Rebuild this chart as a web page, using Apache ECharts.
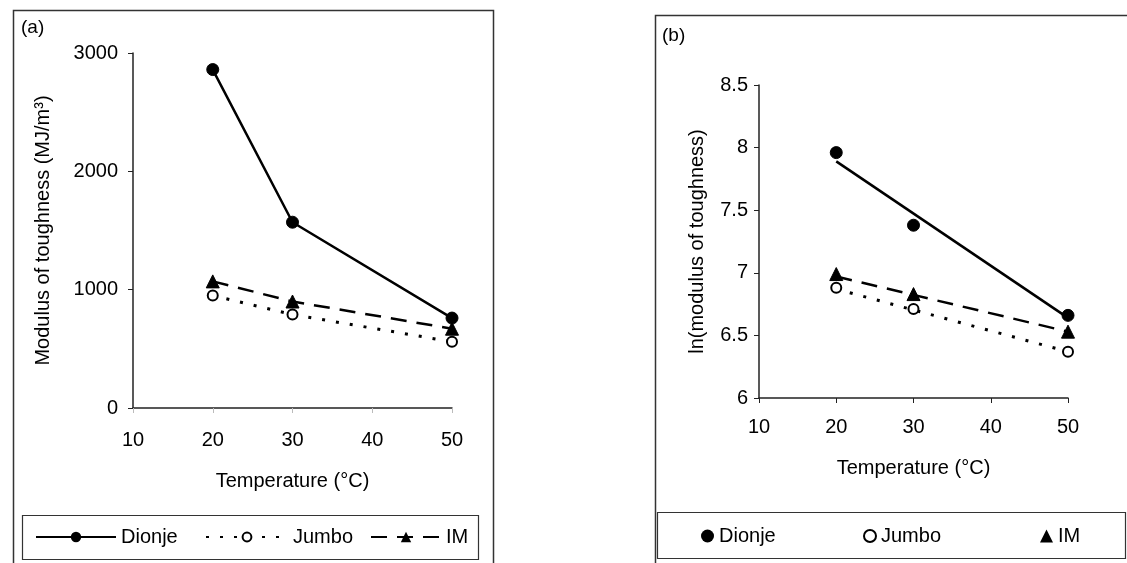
<!DOCTYPE html>
<html>
<head>
<meta charset="utf-8">
<script src="https://cdn.jsdelivr.net/npm/echarts@6/dist/echarts.min.js"></script>
<style>
  html, body { margin: 0; padding: 0; background: #fff; }
  #chart { width: 1127px; height: 563px; }
</style>
</head>
<body>
<div id="chart"></div>
<script>
// Temperatures at which toughness was measured (°C)
const temps = [20, 30, 50];

// (a) modulus of toughness, MJ/m³
const dionjeModulus = [2860, 1570, 760];
const jumboModulus = [950, 790, 560];
const imModulus = [1070, 900, 670];

// (b) ln(modulus of toughness)
const dionjeLn = [7.96, 7.38, 6.66];
const jumboLn = [6.88, 6.71, 6.37];
const imLn = [6.99, 6.83, 6.53];

// (b) straight trend lines, drawn between 20 and 50 °C
const fitTemps = [20, 50];
const dionjeFit = [7.89, 6.64];
const jumboFit = [6.87, 6.37];
const imFit = [6.97, 6.53];

// Axis ticks
const xTicks = [10, 20, 30, 40, 50];
const yTicksA = [0, 1000, 2000, 3000];
const yTicksB = [6, 6.5, 7, 7.5, 8, 8.5];

const FONT = "'Liberation Sans', Arial, sans-serif";
const INK = '#000';
const pairs = (xs, ys) => xs.map((x, i) => [x, ys[i]]);

const dotted = [3, 11];
const dashed = [16, 10];

const chart = echarts.init(document.getElementById('chart'), null, { renderer: 'canvas' });

const axisText = { color: INK, fontFamily: FONT, fontSize: 20 };

function xAxis(gridIndex, tickColor, margin, nameGap) {
  return {
    type: 'value', gridIndex,
    min: xTicks[0], max: xTicks[xTicks.length - 1], interval: 10,
    name: 'Temperature (°C)', nameLocation: 'middle', nameGap,
    nameTextStyle: axisText,
    axisLine: { show: true, onZero: false, lineStyle: { color: '#222', width: 1.5 } },
    axisTick: { show: true, length: 5, lineStyle: { color: tickColor, width: 1 } },
    axisLabel: Object.assign({ margin, formatter: v => String(v) }, axisText),
    splitLine: { show: false }
  };
}

function yAxis(gridIndex, ticks, step, name, margin, nameGap) {
  return {
    type: 'value', gridIndex,
    min: ticks[0], max: ticks[ticks.length - 1], interval: step,
    name, nameLocation: 'middle', nameGap,
    nameTextStyle: axisText,
    axisLine: { show: true, onZero: false, lineStyle: { color: '#222', width: 1.5 } },
    axisTick: { show: true, length: 5, lineStyle: { color: '#222', width: 1 } },
    axisLabel: Object.assign({ margin, formatter: v => String(v) }, axisText),
    splitLine: { show: false }
  };
}

const black = '#000';
const filled = { color: black, borderColor: black, opacity: 1 };
const hollow = { color: '#fff', borderColor: black, borderWidth: 2, opacity: 1 };

function legendItem(name, left, top, w, h, icon) {
  const item = icon ? { name, icon } : { name };
  return {
    data: [item], left, top, orient: 'horizontal',
    itemWidth: w, itemHeight: h, itemGap: 0, padding: 0,
    selectedMode: false,
    textStyle: { color: INK, fontFamily: FONT, fontSize: 20, padding: [0, 0, 0, 0] },
    formatter: n => n.replace(/ \(ln\)$/, '')
  };
}

const option = {
  animation: false,
  backgroundColor: '#fff',
  grid: [
    { left: 133, top: 53, width: 319, height: 355 },
    { left: 759, top: 85, width: 309, height: 313 }
  ],
  xAxis: [
    xAxis(0, '#bbb', 22, 63),
    xAxis(1, '#222', 19, 60)
  ],
  yAxis: [
    yAxis(0, yTicksA, 1000, 'Modulus of toughness (MJ/m³)', 15, 80),
    yAxis(1, yTicksB, 0.5, 'ln(modulus of toughness)', 11, 52)
  ],
  legend: [
    legendItem('Dionje', 35, 527, 80, 13),
    legendItem('Jumbo', 205, 527, 82, 11),
    legendItem('IM', 370, 527, 70, 13),
    legendItem('Dionje (ln)', 701, 526, 13, 13, 'circle'),
    legendItem('Jumbo (ln)', 863, 526, 12, 12, 'circle'),
    legendItem('IM (ln)', 1040, 526, 13, 13, 'triangle')
  ],
  series: [
    // (a) measured modulus, points joined
    {
      name: 'Dionje', type: 'line', xAxisIndex: 0, yAxisIndex: 0,
      data: pairs(temps, dionjeModulus),
      symbol: 'circle', symbolSize: 12, z: 4,
      itemStyle: filled,
      lineStyle: { color: black, width: 2.5, type: 'solid' }
    },
    {
      name: 'Jumbo', type: 'line', xAxisIndex: 0, yAxisIndex: 0,
      data: pairs(temps, jumboModulus),
      symbol: 'circle', symbolSize: 10, z: 3,
      itemStyle: hollow,
      lineStyle: { color: black, width: 3, type: dotted }
    },
    {
      name: 'IM', type: 'line', xAxisIndex: 0, yAxisIndex: 0,
      data: pairs(temps, imModulus),
      symbol: 'triangle', symbolSize: 13, z: 3,
      itemStyle: filled,
      lineStyle: { color: black, width: 2.5, type: dashed }
    },
    // (b) log values as points with straight trend lines
    {
      name: 'Dionje (ln)', type: 'scatter', xAxisIndex: 1, yAxisIndex: 1,
      data: pairs(temps, dionjeLn), symbol: 'circle', symbolSize: 12, z: 4,
      itemStyle: filled
    },
    {
      name: 'Jumbo (ln)', type: 'scatter', xAxisIndex: 1, yAxisIndex: 1,
      data: pairs(temps, jumboLn), symbol: 'circle', symbolSize: 10, z: 4,
      itemStyle: hollow
    },
    {
      name: 'IM (ln)', type: 'scatter', xAxisIndex: 1, yAxisIndex: 1,
      data: pairs(temps, imLn), symbol: 'triangle', symbolSize: 13, z: 4,
      itemStyle: filled
    },
    {
      name: 'Dionje trend', type: 'line', xAxisIndex: 1, yAxisIndex: 1,
      data: pairs(fitTemps, dionjeFit), showSymbol: false, symbol: 'none', z: 2,
      lineStyle: { color: black, width: 2.5, type: 'solid' }
    },
    {
      name: 'Jumbo trend', type: 'line', xAxisIndex: 1, yAxisIndex: 1,
      data: pairs(fitTemps, jumboFit), showSymbol: false, symbol: 'none', z: 2,
      lineStyle: { color: black, width: 3, type: dotted }
    },
    {
      name: 'IM trend', type: 'line', xAxisIndex: 1, yAxisIndex: 1,
      data: pairs(fitTemps, imFit), showSymbol: false, symbol: 'none', z: 2,
      lineStyle: { color: black, width: 2.5, type: dashed }
    }
  ],
  graphic: [
    // panel frames
    { type: 'rect', shape: { x: 13.5, y: 10.5, width: 480, height: 570 },
      style: { fill: 'none', stroke: '#333', lineWidth: 1.5 }, silent: true, z: -1 },
    { type: 'rect', shape: { x: 655.5, y: 15.5, width: 500, height: 570 },
      style: { fill: 'none', stroke: '#333', lineWidth: 1.5 }, silent: true, z: -1 },
    // legend frames
    { type: 'rect', shape: { x: 22.5, y: 515.5, width: 456, height: 44 },
      style: { fill: 'none', stroke: '#333', lineWidth: 1.2 }, silent: true, z: -1 },
    { type: 'rect', shape: { x: 657.5, y: 512.5, width: 468, height: 46 },
      style: { fill: 'none', stroke: '#333', lineWidth: 1.2 }, silent: true, z: -1 },
    // panel tags
    { type: 'text', left: 21, top: 18,
      style: { text: '(a)', fill: INK, font: "19px 'Liberation Sans', Arial, sans-serif" } },
    { type: 'text', left: 662, top: 26,
      style: { text: '(b)', fill: INK, font: "19px 'Liberation Sans', Arial, sans-serif" } }
  ]
};

chart.setOption(option);
</script>
</body>
</html>
